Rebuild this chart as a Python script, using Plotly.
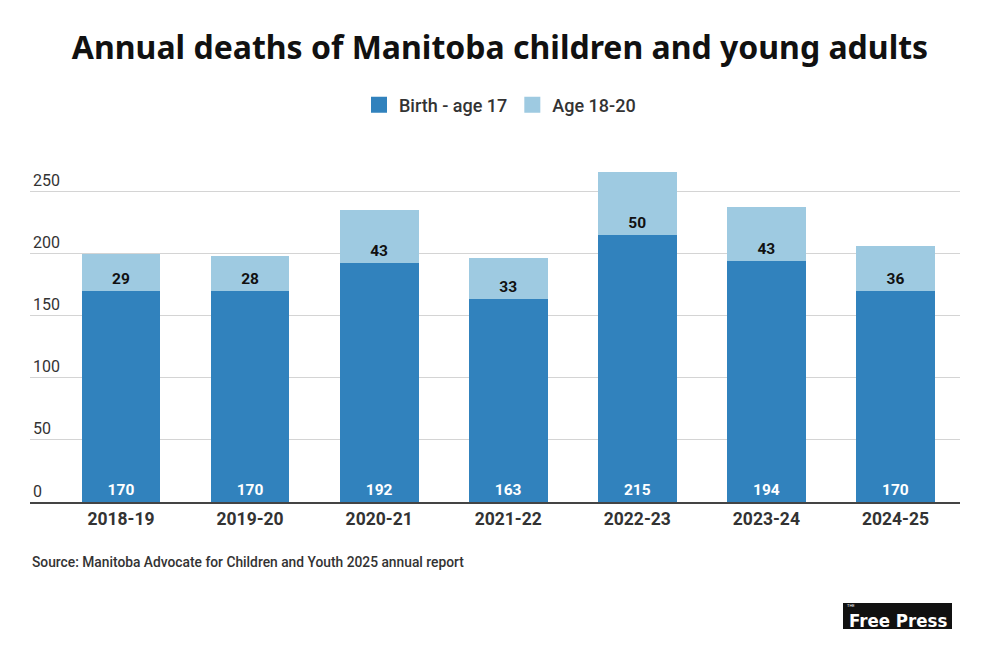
import plotly.graph_objects as go

years = ["2018-19", "2019-20", "2020-21", "2021-22", "2022-23", "2023-24", "2024-25"]
birth_to_17 = [170, 170, 192, 163, 215, 194, 170]
age_18_20 = [29, 28, 43, 33, 50, 43, 36]
y_ticks = [0, 50, 100, 150, 200, 250]

DARK_BLUE = "#3182bd"
LIGHT_BLUE = "#9ecae1"
TEXT = "#333333"

fig = go.Figure()
fig.add_trace(go.Bar(
    x=years, y=birth_to_17, name="Birth - age 17", showlegend=False,
    marker=dict(color=DARK_BLUE, line=dict(width=0)),
    text=birth_to_17, textposition="inside", insidetextanchor="start",
    textfont=dict(family="Roboto", size=15.5, color="white", weight="bold"),
    textangle=0,
))
fig.add_trace(go.Bar(
    x=years, y=age_18_20, name="Age 18-20", showlegend=False,
    marker=dict(color=LIGHT_BLUE, line=dict(width=0)),
    text=age_18_20, textposition="inside", insidetextanchor="start",
    textfont=dict(family="Roboto", size=15.5, color="#111111", weight="bold"),
    textangle=0,
))

# legend entries with bigger square swatches
for name, colour in [("Birth - age 17", DARK_BLUE), ("Age 18-20", LIGHT_BLUE)]:
    fig.add_trace(go.Scatter(
        x=[None], y=[None], mode="markers", name=name,
        marker=dict(symbol="square", size=16, color=colour),
    ))

fig.update_layout(
    barmode="stack",
    bargap=0.39,
    width=1000, height=648,
    margin=dict(l=30, r=40, t=150, b=146),
    paper_bgcolor="white", plot_bgcolor="white",
    title=dict(
        text="<b>Annual deaths of Manitoba children and young adults</b>",
        x=0.5, xref="container", y=0.927, yanchor="middle",
        font=dict(family="Noto Sans", size=32, color="#111111"),
    ),
    legend=dict(
        orientation="h", x=0.5, xanchor="center", xref="container",
        y=0.838, yanchor="middle", yref="container",
        font=dict(family="Roboto", size=18, color=TEXT, weight=500),
        itemwidth=30, traceorder="normal", itemclick=False, itemdoubleclick=False,
    ),
    font=dict(family="Roboto", color=TEXT),
    xaxis=dict(
        range=[-0.705, 6.5], showgrid=False,
        showline=True, linecolor="#444444", linewidth=2,
        ticks="", tickfont=dict(size=17.5, color=TEXT, weight="bold"),
        ticklabelstandoff=0,
    ),
    yaxis=dict(
        range=[0, 283], tickvals=y_ticks,
        showgrid=True, gridcolor="#d4d4d4", gridwidth=1,
        zeroline=False, showline=False,
        ticklabelposition="inside", ticklabelshift=-11, ticklabelstandoff=0,
        tickfont=dict(size=16, color=TEXT),
    ),
    uniformtext=dict(minsize=8, mode="show"),
)

fig.add_annotation(
    text="Source: Manitoba Advocate for Children and Youth 2025 annual report",
    xref="paper", yref="paper", x=0, y=-0.17, xanchor="left", yanchor="middle",
    showarrow=False, font=dict(family="Roboto", size=13.8, color=TEXT, weight=500),
)

# Free Press logo
fig.add_shape(type="rect", xref="paper", yref="paper",
              x0=(843 - 30) / 930, x1=(952 - 30) / 930,
              y0=(502 - 629) / 352, y1=(502 - 603) / 352,
              fillcolor="#111111", line=dict(width=0))
fig.add_annotation(
    text="<b>Free Press</b>",
    xref="paper", yref="paper",
    x=(898 - 30) / 930, y=(502 - 620) / 352, xanchor="center", yanchor="middle",
    showarrow=False,
    font=dict(family="DejaVu Sans Condensed, Roboto", size=18.5, color="white"),
)
fig.add_annotation(
    text="THE",
    xref="paper", yref="paper",
    x=(846 - 30) / 930, y=(502 - 602) / 352, xanchor="left", yanchor="top",
    showarrow=False, borderpad=0,
    font=dict(family="Roboto", size=4, color="white"),
)

fig.write_html("out.html", post_script="document.body.style.margin='0';",
               config={"displayModeBar": False})
